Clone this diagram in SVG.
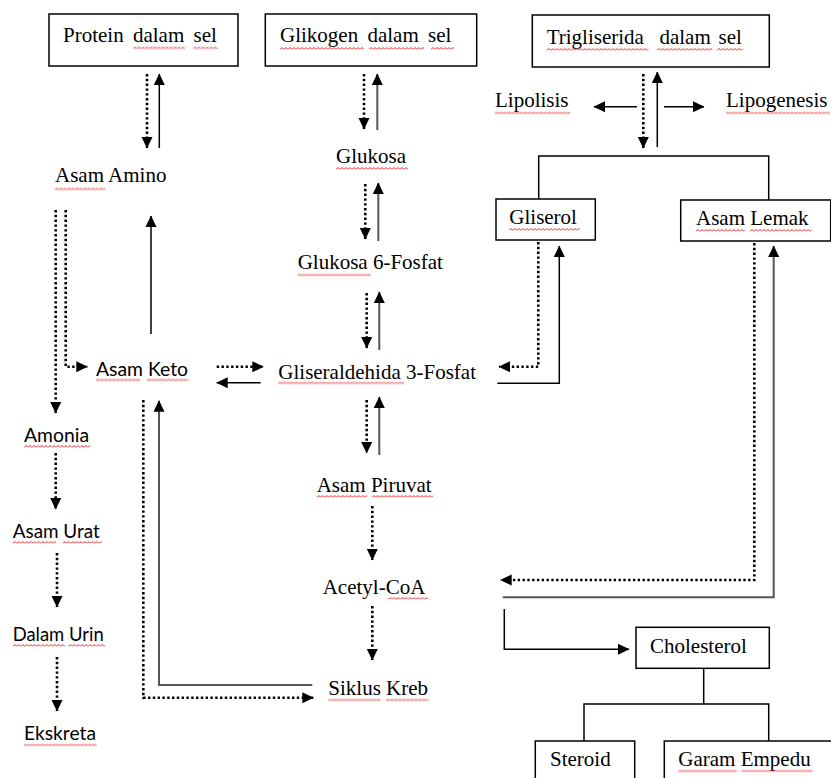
<svg xmlns="http://www.w3.org/2000/svg" width="831" height="778" viewBox="0 0 831 778">
<style>
.t{font-family:"Liberation Serif","Times New Roman",serif;font-size:21px;fill:#000}
.c{font-family:Lato,"Open Sans",sans-serif;font-size:19.5px;fill:#000}
.ws{word-spacing:4px}
.box{fill:#fff;stroke:#000;stroke-width:1.5}
.dot{fill:none;stroke:#000;stroke-width:2.6;stroke-dasharray:2.4 2.4}
.sol{fill:none;stroke:#000;stroke-width:1.5}
.gr{fill:none;stroke:#555;stroke-width:2}
.ln{fill:none;stroke:#000;stroke-width:1.5}
.sq{fill:url(#sq)}
</style>
<defs>
<marker id="ah" markerUnits="userSpaceOnUse" markerWidth="12" markerHeight="12" refX="11" refY="6" orient="auto" viewBox="0 0 12 12">
<path d="M0,0.5 L11.5,6 L0,11.5 z" fill="#000"/>
</marker>
<pattern id="sq" width="4" height="3" patternUnits="userSpaceOnUse">
<path d="M0,2.5 L2,0.5 L4,2.5" fill="none" stroke="#e02020" stroke-width="1"/>
</pattern>
</defs>
<rect width="831" height="778" fill="#fff"/>

<g id="connectors">
<path class="dot" d="M147,74 V148" marker-end="url(#ah)"/>
<path class="sol" d="M159.3,148 V74" marker-end="url(#ah)"/>
<path class="dot" d="M364,74 V129" marker-end="url(#ah)"/>
<path class="gr" d="M377.3,130 V74" marker-end="url(#ah)"/>
<path class="dot" d="M365.3,184 V239" marker-end="url(#ah)"/>
<path class="gr" d="M378.3,241 V183" marker-end="url(#ah)"/>
<path class="dot" d="M366.7,293 V348" marker-end="url(#ah)"/>
<path class="gr" d="M379.3,350 V292" marker-end="url(#ah)"/>
<path class="dot" d="M366.7,400 V453" marker-end="url(#ah)"/>
<path class="gr" d="M379.3,455 V397" marker-end="url(#ah)"/>
<path class="dot" d="M372.3,506 V560" marker-end="url(#ah)"/>
<path class="dot" d="M372.3,606 V660" marker-end="url(#ah)"/>
<path class="dot" d="M643.3,74 V148" marker-end="url(#ah)"/>
<path class="sol" d="M657.3,147 V72" marker-end="url(#ah)"/>
<path class="sol" d="M637,106.7 H594" marker-end="url(#ah)"/>
<path class="sol" d="M664,106.7 H704" marker-end="url(#ah)"/>
<path class="ln" d="M538.7,199 V156 H768.7 V200"/>
<path class="dot" d="M538.3,242 V366.7 H499" marker-end="url(#ah)"/>
<path class="sol" d="M497.3,383.3 H559.3 V246" marker-end="url(#ah)"/>
<path class="dot" d="M754.3,243 V580 H500.7" marker-end="url(#ah)"/>
<path class="gr" d="M502.7,597.3 H773.7 V246" marker-end="url(#ah)"/>
<path class="sol" d="M504.3,609 V649.3 H629" marker-end="url(#ah)"/>
<path class="ln" d="M703.7,668 V704"/>
<path class="ln" d="M584,741 V704 H768.7 V741"/>
<path class="dot" d="M55.7,210 V413" marker-end="url(#ah)"/>
<path class="dot" d="M65.7,210 V366.7 H87.3" marker-end="url(#ah)"/>
<path class="sol" d="M151,334 V216" marker-end="url(#ah)"/>
<path class="dot" d="M216.7,366.7 H263.3" marker-end="url(#ah)"/>
<path class="sol" d="M260.7,382.7 H216.7" marker-end="url(#ah)"/>
<path class="dot" d="M143.3,400 V697.7 H313.3" marker-end="url(#ah)"/>
<path class="gr" d="M312.3,685 H159 V400.7" marker-end="url(#ah)"/>
<path class="dot" d="M55.7,453 V509" marker-end="url(#ah)"/>
<path class="dot" d="M57,553 V607" marker-end="url(#ah)"/>
<path class="dot" d="M57,657 V711" marker-end="url(#ah)"/>
</g>

<g id="protein">
<rect class="box" x="49" y="14" width="189" height="52"/>
<text class="t ws" x="63" y="42.3">Protein dalam sel</text>
<rect class="sq" transform="translate(133,46.5)" width="52" height="3"/>
<rect class="sq" transform="translate(193,46.5)" width="25" height="3"/>
</g>
<g id="glikogen">
<rect class="box" x="265.3" y="14" width="211.4" height="52"/>
<text class="t ws" x="280" y="41.7">Glikogen dalam sel</text>
<rect class="sq" transform="translate(280,47)" width="84" height="3"/>
<rect class="sq" transform="translate(369,47)" width="55" height="3"/>
<rect class="sq" transform="translate(431,47)" width="23" height="3"/>
</g>
<g id="trigliserida">
<rect class="box" x="532.3" y="15" width="237" height="52"/>
<text class="t" x="546.7" y="43.7" xml:space="preserve" style="word-spacing:2.5px">Trigliserida  dalam sel</text>
<rect class="sq" transform="translate(546.7,48)" width="101.6" height="3"/>
<rect class="sq" transform="translate(656.7,48)" width="55.6" height="3"/>
<rect class="sq" transform="translate(717,48)" width="25.7" height="3"/>
</g>
<g id="lipolisis">
<text class="t" x="495" y="107.3">Lipolisis</text>
<rect class="sq" transform="translate(495,111.5)" width="75" height="3"/>
</g>
<g id="lipogenesis">
<text class="t" x="726" y="107.3">Lipogenesis</text>
<rect class="sq" transform="translate(726,111.5)" width="104" height="3"/>
</g>
<g id="gliserol">
<rect class="box" x="496" y="199" width="99.3" height="41"/>
<text class="t" x="509.3" y="224">Gliserol</text>
<rect class="sq" transform="translate(509,228)" width="71" height="3"/>
</g>
<g id="asam-lemak">
<rect class="box" x="680.7" y="200" width="150" height="41"/>
<text class="t" x="696" y="225">Asam Lemak</text>
<rect class="sq" transform="translate(696,229)" width="49" height="3"/>
<rect class="sq" transform="translate(750,229)" width="61.7" height="3"/>
</g>
<g id="asam-amino">
<text class="t" x="55" y="182.3">Asam Amino</text>
<rect class="sq" transform="translate(55,187.5)" width="50" height="3"/>
</g>
<g id="glukosa">
<text class="t" x="336" y="163.3">Glukosa</text>
<rect class="sq" transform="translate(336,167)" width="72" height="3"/>
</g>
<g id="glukosa-6-fosfat">
<text class="t" x="297.7" y="269">Glukosa 6-Fosfat</text>
<rect class="sq" transform="translate(297.7,273.5)" width="73.3" height="3"/>
</g>
<g id="gliseraldehida">
<text class="t" x="278.3" y="379.3">Gliseraldehida 3-Fosfat</text>
<rect class="sq" transform="translate(278.3,381.5)" width="126" height="3"/>
</g>
<g id="asam-keto">
<text class="c" x="96" y="375.7" textLength="92" lengthAdjust="spacingAndGlyphs">Asam Keto</text>
<rect class="sq" transform="translate(96,378.5)" width="44" height="3"/>
<rect class="sq" transform="translate(146.7,378.5)" width="41.6" height="3"/>
</g>
<g id="asam-piruvat">
<text class="t" x="316.7" y="491.7">Asam Piruvat</text>
<rect class="sq" transform="translate(316.7,495)" width="50.6" height="3"/>
<rect class="sq" transform="translate(371.7,495)" width="61.6" height="3"/>
</g>
<g id="acetyl-coa">
<text class="t" x="322.7" y="594">Acetyl-CoA</text>
<rect class="sq" transform="translate(388.3,597)" width="40" height="3"/>
</g>
<g id="siklus-kreb">
<text class="t" x="328.3" y="695">Siklus Kreb</text>
<rect class="sq" transform="translate(328.3,698.5)" width="52.4" height="3"/>
<rect class="sq" transform="translate(386,698.5)" width="42.3" height="3"/>
</g>
<g id="amonia">
<text class="c" x="24" y="441.7" textLength="65" lengthAdjust="spacingAndGlyphs">Amonia</text>
<rect class="sq" transform="translate(24,445)" width="66" height="3"/>
</g>
<g id="asam-urat">
<text class="c" x="12.7" y="537.7" textLength="87" lengthAdjust="spacingAndGlyphs">Asam Urat</text>
<rect class="sq" transform="translate(12.7,541)" width="43.3" height="3"/>
<rect class="sq" transform="translate(62.7,541)" width="39" height="3"/>
</g>
<g id="dalam-urin">
<text class="c" x="12.7" y="641" textLength="91" lengthAdjust="spacingAndGlyphs">Dalam Urin</text>
<rect class="sq" transform="translate(12.7,644)" width="52.3" height="3"/>
<rect class="sq" transform="translate(68.3,644)" width="36.7" height="3"/>
</g>
<g id="ekskreta">
<text class="c" x="24" y="740" textLength="72" lengthAdjust="spacingAndGlyphs">Ekskreta</text>
<rect class="sq" transform="translate(24,743.5)" width="72.7" height="3"/>
</g>
<g id="cholesterol">
<rect class="box" x="636" y="627.3" width="133.3" height="41"/>
<text class="t" x="650" y="652.7">Cholesterol</text>
</g>
<g id="steroid">
<rect class="box" x="535.3" y="741" width="99.4" height="50"/>
<text class="t" x="550" y="766">Steroid</text>
</g>
<g id="garam-empedu">
<rect class="box" x="664.3" y="741" width="170" height="50"/>
<text class="t" x="678.3" y="766">Garam Empedu</text>
<rect class="sq" transform="translate(678.3,769.5)" width="58.4" height="3"/>
<rect class="sq" transform="translate(741.7,769.5)" width="70.6" height="3"/>
</g>
</svg>
